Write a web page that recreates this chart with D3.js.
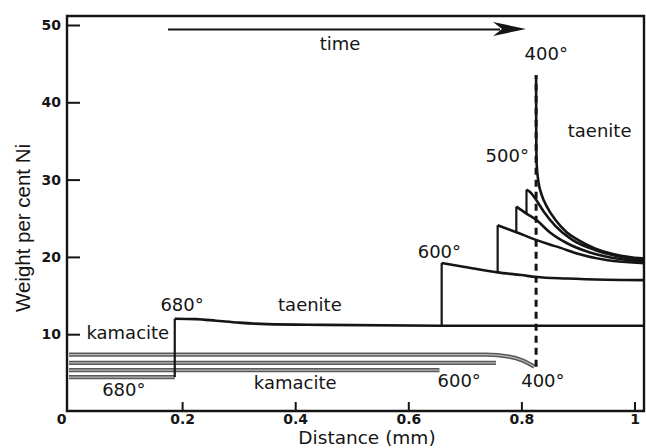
<!DOCTYPE html>
<html>
<head>
<meta charset="utf-8">
<script src="https://cdn.jsdelivr.net/npm/d3@7"></script>
<style>
  html, body { margin: 0; padding: 0; background: #fff; }
  svg { display: block; }
</style>
</head>
<body>
<svg id="chart" width="646" height="448"></svg>
<script>
// ---------------- data (distance mm, weight % Ni) ----------------
const xTicks = [0, 0.2, 0.4, 0.6, 0.8, 1];
const xTickLabels = ["0", "0.2", "0.4", "0.6", "0.8", "1"];
const yTicks = [10, 20, 30, 40, 50];
const yTickLabels = ["10", "20", "30", "40", "50"];

// taenite profiles: jump (vertical step) then curve
const t680Jump  = [[0.187, 4.45], [0.187, 12.0]];
const t680Curve = [[0.187, 12.0], [0.225, 11.95], [0.26, 11.75], [0.30, 11.5], [0.35, 11.3], [0.45, 11.2], [0.66, 11.1], [0.8, 11.1], [1.018, 11.1]];

const t600Jump  = [[0.659, 11.1], [0.659, 19.2]];
const t600Curve = [[0.659, 19.2], [0.70, 18.7], [0.758, 18.0], [0.80, 17.65], [0.826, 17.4], [0.88, 17.2], [0.95, 17.05], [1.018, 17.0]];

const t550Jump  = [[0.758, 18.0], [0.758, 24.1]];
const t550Curve = [[0.758, 24.1], [0.791, 23.2], [0.826, 22.2], [0.85, 21.6], [0.868, 21.2], [0.90, 20.4], [0.95, 19.6], [1.018, 19.2]];

const t525Jump  = [[0.791, 23.2], [0.791, 26.5]];
const t525Curve = [[0.791, 26.5], [0.809, 25.6], [0.826, 24.8], [0.85, 23.2], [0.88, 21.8], [0.92, 20.6], [0.96, 19.9], [1.018, 19.4]];

const t500Jump  = [[0.809, 25.6], [0.809, 28.7]];
const t500Curve = [[0.809, 28.7], [0.818, 28.2], [0.826, 27.4], [0.84, 25.8], [0.86, 24.0], [0.89, 22.2], [0.93, 20.9], [0.97, 20.1], [1.018, 19.6]];

const t400Curve = [[0.826, 43.5], [0.8262, 36], [0.827, 32], [0.830, 29.8], [0.836, 28.0], [0.845, 26.5], [0.86, 24.8], [0.88, 23.2], [0.90, 22.2], [0.93, 21.1], [0.96, 20.4], [1.0, 19.9], [1.018, 19.8]];

// kamacite profiles
const k680 = [[0, 4.45], [0.187, 4.45]];
const k600 = [[0, 5.35], [0.655, 5.35]];
const k550 = [[0, 6.3], [0.755, 6.3]];
const k400 = [[0, 7.35], [0.737, 7.35], [0.778, 7.1], [0.802, 6.6], [0.823, 5.8]];

// 400° interface position (dashed)
const interface400 = [[0.826, 5.8], [0.826, 43.5]];

// labels [text, distance, Ni]
const labelTexts  = ["400°", "taenite", "500°", "600°", "680°", "taenite", "kamacite", "680°", "kamacite", "600°", "400°"];
const labelX      = [0.844, 0.882, 0.775, 0.655, 0.200, 0.426, 0.104, 0.097, 0.400, 0.690, 0.838];
const labelY      = [45.5, 35.5, 32.3, 19.9, 13.0, 13.0, 9.4, 2.0, 2.9, 3.2, 3.2];
const labelAnchor = ["middle", "start", "middle", "middle", "middle", "middle", "middle", "middle", "middle", "middle", "middle"];

// ---------------- drawing ----------------
const svg = d3.select("#chart");
const x = d3.scaleLinear().domain([0, 1]).range([69, 634.5]);
const y = d3.scaleLinear().domain([0, 50]).range([411.5, 25]);
const frameLeft = 67, frameRight = 644, frameTop = 16, frameBottom = 411;
const ink = "#151515";

// frame
svg.append("path")
  .attr("d", `M${frameLeft},${frameBottom} L${frameLeft},${frameTop} L${frameRight},${frameTop} L${frameRight},${frameBottom} Z`)
  .attr("fill", "none").attr("stroke", ink).attr("stroke-width", 2.4);

// y axis
const yAxis = svg.append("g").attr("transform", `translate(${frameLeft},0)`)
  .call(d3.axisLeft(y).tickValues(yTicks).tickFormat((d, i) => yTickLabels[i])
    .tickSizeInner(-13).tickSizeOuter(0).tickPadding(6));
yAxis.select(".domain").remove();
yAxis.selectAll(".tick line").attr("stroke", ink).attr("stroke-width", 2);
yAxis.selectAll(".tick text").attr("fill", ink)
  .style("font-family", "DejaVu Sans").style("font-weight", "bold").style("font-size", "14px");

// x axis
const xAxis = svg.append("g").attr("transform", `translate(0,${frameBottom})`)
  .call(d3.axisBottom(x).tickValues(xTicks).tickFormat((d, i) => xTickLabels[i])
    .tickSizeInner(-9).tickSizeOuter(0));
xAxis.select(".domain").remove();
xAxis.selectAll(".tick line").attr("stroke", ink).attr("stroke-width", 2)
  .attr("display", d => d === 0 ? "none" : null);
xAxis.selectAll(".tick text").attr("fill", ink)
  .attr("y", 13).attr("dy", 0)
  .attr("dx", d => d === 0 ? -8 : 0)
  .style("font-family", "DejaVu Sans").style("font-weight", "bold").style("font-size", "14px");

// axis titles
svg.append("text")
  .attr("transform", "translate(30,228) rotate(-90)")
  .attr("text-anchor", "middle")
  .attr("textLength", 168).attr("lengthAdjust", "spacingAndGlyphs")
  .style("font-family", "Liberation Sans").style("font-size", "20px").attr("fill", ink)
  .text("Weight per cent Ni");
svg.append("text")
  .attr("x", 367).attr("y", 444).attr("text-anchor", "middle")
  .style("font-family", "DejaVu Sans").style("font-size", "18.5px").attr("fill", ink)
  .text("Distance (mm)");

// time arrow
svg.append("line").attr("x1", 168).attr("y1", 29.5).attr("x2", 500).attr("y2", 29.5)
  .attr("stroke", ink).attr("stroke-width", 2.2);
svg.append("path").attr("d", "M526,29 L493,22 L502,29 L493,36 Z").attr("fill", ink);
svg.append("text").attr("x", 340).attr("y", 50).attr("text-anchor", "middle")
  .style("font-family", "DejaVu Sans").style("font-size", "18px").attr("fill", ink)
  .text("time");

const lineLin = d3.line().x(d => x(d[0])).y(d => y(d[1]));
const lineSmooth = d3.line().x(d => x(d[0])).y(d => y(d[1])).curve(d3.curveMonotoneX);

// kamacite bands (double line look)
const kamacite = [k680, k600, k550, k400];
kamacite.forEach(k => {
  svg.append("path").attr("d", lineSmooth(k)).attr("fill", "none")
    .attr("stroke", "#5a5a5a").attr("stroke-width", 4.2);
  svg.append("path").attr("d", lineSmooth(k)).attr("fill", "none")
    .attr("stroke", "#b8b8b8").attr("stroke-width", 1.3);
});

// dashed interface
svg.append("path").attr("d", lineLin(interface400)).attr("fill", "none")
  .attr("stroke", ink).attr("stroke-width", 3).attr("stroke-dasharray", "7,5");

// taenite
const jumps = [t680Jump, t600Jump, t550Jump, t525Jump, t500Jump];
const curves = [t680Curve, t600Curve, t550Curve, t525Curve, t500Curve, t400Curve];
jumps.forEach(j => svg.append("path").attr("d", lineLin(j)).attr("fill", "none")
  .attr("stroke", ink).attr("stroke-width", 2.2));
curves.forEach(c => svg.append("path").attr("d", lineSmooth(c)).attr("fill", "none")
  .attr("stroke", ink).attr("stroke-width", 2.6).attr("stroke-linejoin", "round"));

// labels
labelTexts.forEach((t, i) => {
  svg.append("text").attr("x", x(labelX[i])).attr("y", y(labelY[i]))
    .attr("text-anchor", labelAnchor[i])
    .style("font-family", "DejaVu Sans").style("font-size", "18px").attr("fill", ink)
    .text(t);
});
</script>
</body>
</html>
